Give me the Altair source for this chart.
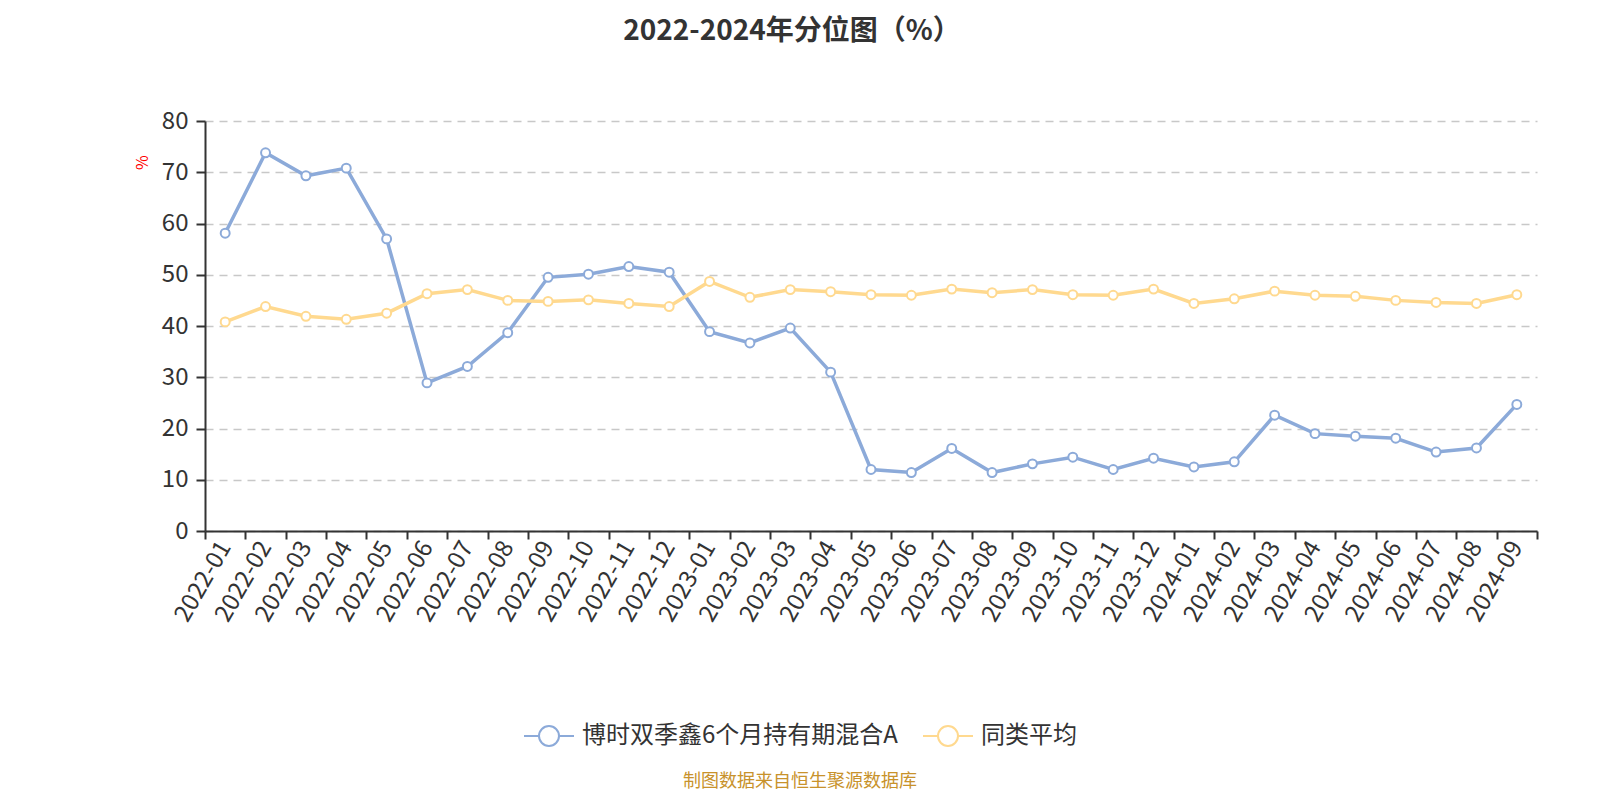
import altair as alt
import pandas as pd

months = [
    "2022-01", "2022-02", "2022-03", "2022-04", "2022-05", "2022-06", "2022-07", "2022-08",
    "2022-09", "2022-10", "2022-11", "2022-12", "2023-01", "2023-02", "2023-03", "2023-04",
    "2023-05", "2023-06", "2023-07", "2023-08", "2023-09", "2023-10", "2023-11", "2023-12",
    "2024-01", "2024-02", "2024-03", "2024-04", "2024-05", "2024-06", "2024-07", "2024-08",
    "2024-09",
]
fund_name = "博时双季鑫6个月持有期混合A"
avg_name = "同类平均"
fund_values = [
    58.1, 73.8, 69.3, 70.8, 57.0, 28.9, 32.1, 38.7, 49.5, 50.1, 51.6, 50.5,
    38.9, 36.7, 39.6, 31.0, 12.0, 11.4, 16.1, 11.4, 13.1, 14.4, 12.0, 14.2,
    12.5, 13.5, 22.6, 19.0, 18.5, 18.1, 15.4, 16.2, 24.7,
]
avg_values = [
    40.8, 43.8, 41.9, 41.3, 42.5, 46.3, 47.1, 45.0, 44.8, 45.1, 44.4, 43.8,
    48.7, 45.6, 47.1, 46.7, 46.1, 46.0, 47.2, 46.5, 47.1, 46.1, 46.0, 47.2,
    44.4, 45.3, 46.8, 46.0, 45.8, 45.0, 44.6, 44.4, 46.1,
]
series_names = [fund_name, avg_name]
series_colors = ["#8caad9", "#ffd98f"]
title_text = "2022-2024年分位图（%）"
footer_text = "制图数据来自恒生聚源数据库"

rows = []
for i, m in enumerate(months):
    rows.append({"month": m, "series": fund_name, "value": fund_values[i], "order": 0})
for i, m in enumerate(months):
    rows.append({"month": m, "series": avg_name, "value": avg_values[i], "order": 1})
df = pd.DataFrame(rows)

FONT = "Noto Sans CJK SC"
W, H = 1332, 410

legend_shape = (
    "M-1,0 L-0.4,0 M0.4,0 L1,0 "
    "M-0.4,0 A0.4,0.4 0 1,1 0.4,0 A0.4,0.4 0 1,1 -0.4,0 Z"
)

x_enc = alt.X(
    "month:O",
    sort=months,
    scale=alt.Scale(paddingInner=0, paddingOuter=0, align=0.5),
    axis=alt.Axis(
        title=None,
        labelAngle=-60,
        labelAlign="right",
        labelBaseline="middle",
        labelFontSize=24,
        labelColor="#333333",
        labelFont=FONT,
        labelPadding=4,
        tickBand="extent",
        tickSize=8,
        tickColor="#333333",
        tickWidth=2,
        domainColor="#333333",
        domainWidth=2,
        grid=False,
        labelOverlap=False,
    ),
)
y_enc = alt.Y(
    "value:Q",
    scale=alt.Scale(domain=[0, 80], nice=False, zero=True),
    axis=alt.Axis(
        title="%",
        titleColor="red",
        titleFontSize=16,
        titleFont=FONT,
        titleFontWeight="normal",
        titleAngle=-90,
        titleX=-63,
        titleY=41,
        titleAlign="center",
        titleBaseline="middle",
        values=[0, 10, 20, 30, 40, 50, 60, 70, 80],
        labelFontSize=24,
        labelColor="#333333",
        labelFont=FONT,
        labelPadding=8,
        tickSize=9,
        tickColor="#333333",
        tickWidth=2,
        domainColor="#333333",
        domainWidth=2,
        grid=True,
        gridColor="#c8c8c8",
        gridDash=[8, 6],
        gridWidth=1.5,
    ),
)
color_enc = alt.Color(
    "series:N",
    sort=series_names,
    scale=alt.Scale(domain=series_names, range=series_colors),
    legend=alt.Legend(
        title=None,
        orient="none",
        direction="horizontal",
        legendX=318,
        legendY=589,
        symbolType=legend_shape,
        symbolSize=2500,
        symbolStrokeWidth=2,
        symbolFillColor="white",
        labelFontSize=24,
        labelFont=FONT,
        labelColor="#333333",
        labelOffset=7,
        labelLimit=0,
        columnPadding=21,
        padding=0,
    ),
)

base = alt.Chart(df).encode(x=x_enc, y=y_enc, color=color_enc, detail="series:N", order="order:Q")

lines = base.mark_line(strokeWidth=3.5)
points = base.mark_point(filled=False, fill="white", fillOpacity=1, size=80, strokeWidth=2, opacity=1)

title_df = pd.DataFrame({"t": [title_text]})
title_mark = alt.Chart(title_df).mark_text(
    font=FONT, fontSize=28, fontWeight="bold", color="#333333", align="center", baseline="middle"
).encode(x=alt.value(587), y=alt.value(-89), text="t:N")

footer_df = pd.DataFrame({"t": [footer_text]})
footer = alt.Chart(footer_df).mark_text(
    font=FONT, fontSize=18, color="#c8922b", align="center", baseline="middle"
).encode(x=alt.value(595), y=alt.value(661), text="t:N")

chart = (
    alt.layer(lines, points, title_mark, footer)
    .properties(
        width=W,
        height=H,
        autosize=alt.AutoSizeParams(type="none"),
        padding={"left": 197, "top": 113, "right": 55, "bottom": 261},
    )
    .configure_view(stroke=None)
)

chart.save("out.html", embed_options={"renderer": "svg", "actions": False})
